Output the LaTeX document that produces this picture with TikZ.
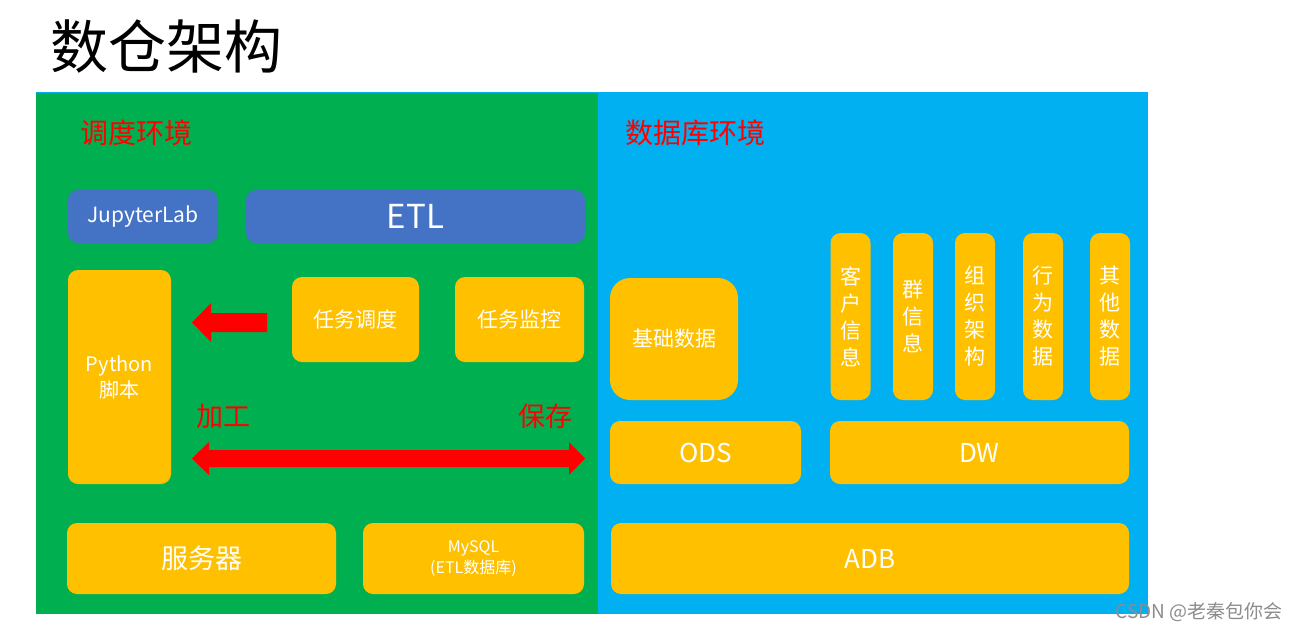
\documentclass[tikz,border=0pt]{standalone}
\usepackage{fontspec}
\setmainfont{Noto Sans CJK SC}
\definecolor{pgreen}{HTML}{00B050}
\definecolor{pblue}{HTML}{00B0F0}
\definecolor{byellow}{HTML}{FFC000}
\definecolor{bblue}{HTML}{4472C4}
\definecolor{ared}{HTML}{FF0000}
\newcommand{\fs}[1]{\fontsize{#1}{#1}\selectfont}
\begin{document}
\begin{tikzpicture}[x=1pt,y=-1pt,
  box/.style={fill=byellow,draw=none,rounded corners=10pt,text=white,align=center,inner sep=0pt},
  bluebox/.style={box,fill=bblue},
  vbox/.style={box,minimum width=40pt,minimum height=167pt,font=\fontsize{21}{27}\selectfont},
  label/.style={text=ared,inner sep=0pt},
  blockarrow/.style={fill=ared,draw=none}]
\useasboundingbox (0,0) rectangle (1298,633);
\fill[white] (0,0) rectangle (1298,633);
% panels
\fill[pgreen] (36,92) rectangle (598,614);
\fill[pblue] (598,92) rectangle (1148,614);
\draw[pblue,line width=1pt] (36,92.5) -- (598,92.5);
% title
\node[anchor=west,inner sep=0pt,font=\fs{58}] (title) at (50,47) {数仓架构};
\node[label,anchor=west,font=\fs{28}] (sched) at (80,133) {调度环境};
\node[label,anchor=west,font=\fs{28}] (dbenv) at (625,133) {数据库环境};
% left side
\node[bluebox,minimum width=150pt,minimum height=53pt,font=\fs{21}] (jup) at (143,216.5) {JupyterLab};
\node[bluebox,minimum width=339pt,minimum height=53pt,font=\fs{33}] (etl) at (415.5,216.5) {ETL};
\node[box,minimum width=103pt,minimum height=214pt,font=\fontsize{20}{26}\selectfont] (py) at (119.5,377) {Python\\脚本};
\node[box,minimum width=127pt,minimum height=85pt,font=\fs{21}] (rwdd) at (355.5,319.5) {任务调度};
\node[box,minimum width=129pt,minimum height=85pt,font=\fs{21}] (rwjk) at (519.5,319.5) {任务监控};
\node[box,minimum width=269pt,minimum height=71pt,font=\fs{27}] (srv) at (201.5,558.5) {服务器};
\node[box,minimum width=221pt,minimum height=71pt,font=\fontsize{16}{21}\selectfont] (mysql) at (473.5,558.5) {MySQL\\(ETL数据库)};
\node[label,anchor=west,font=\fs{27}] (jg) at (196,416) {加工};
\node[label,anchor=east,font=\fs{27}] (bc) at (573,416) {保存};
% arrows
\coordinate (la1) at (192,322.5);
\fill[blockarrow] (la1) -- (211,303) -- (211,313) -- (267,313) -- (267,332) -- (211,332) -- (211,342) -- cycle;
\coordinate (da1) at (192,458.5);
\coordinate (da2) at (585,458.5);
\fill[blockarrow] (da1) -- (209,442) -- (209,450) -- (569,450) -- (569,442) -- (da2) -- (569,475) -- (569,467) -- (209,467) -- (209,475) -- cycle;
% right side
\node[box,rounded corners=20pt,minimum width=128pt,minimum height=122pt,font=\fs{21}] (jcsj) at (674,339) {基础数据};
\node[vbox] (v1) at (850.5,316.5) {客\\户\\信\\息};
\node[vbox] (v2) at (913,316.5) {群\\信\\息};
\node[vbox] (v3) at (975,316.5) {组\\织\\架\\构};
\node[vbox] (v4) at (1043,316.5) {行\\为\\数\\据};
\node[vbox] (v5) at (1110,316.5) {其\\他\\数\\据};
\node[box,minimum width=191pt,minimum height=63pt,font=\fs{26}] (ods) at (705.5,452.5) {ODS};
\node[box,minimum width=299pt,minimum height=63pt,font=\fs{26}] (dw) at (979.5,452.5) {DW};
\node[box,minimum width=518pt,minimum height=71pt,font=\fs{26}] (adb) at (870,558.5) {ADB};
% watermark
\node[anchor=east,inner sep=0pt,text=black!45,font=\fs{19}] (wm) at (1283,612) {CSDN @老秦包你会};
\end{tikzpicture}
\end{document}
